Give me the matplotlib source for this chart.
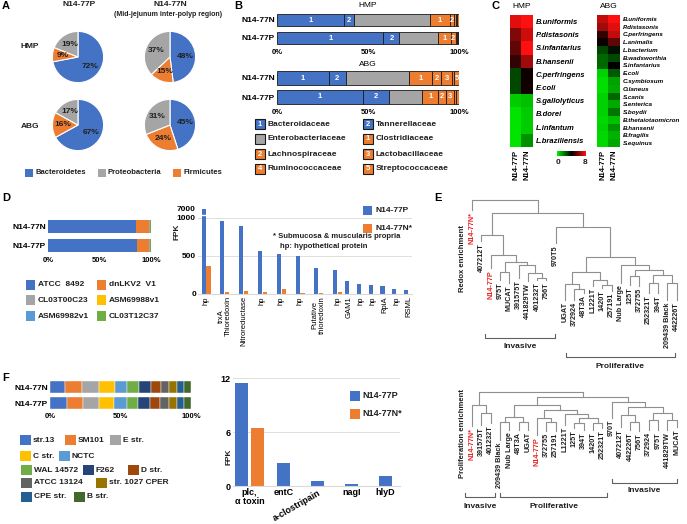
import numpy as np
import matplotlib
matplotlib.use("Agg")
import matplotlib.pyplot as plt
from matplotlib.patches import Rectangle
from matplotlib.colors import LinearSegmentedColormap

plt.rcParams["font.family"] = ["Liberation Sans", "DejaVu Sans"]
plt.rcParams["font.weight"] = "bold"
plt.rcParams["font.size"] = 5.5

BLUE = "#4472C4"
ORANGE = "#ED7D31"
GRAY = "#A5A5A5"
YELLOW = "#FFC000"
LBLUE = "#5B9BD5"
GREEN = "#70AD47"
TXT = "#1f1f1f"
RED = "#e8221e"

# ---- A: phylum pies
phyla = ["Bacteroidetes", "Firmicutes", "Proteobacteria"]
phyla_colors = [BLUE, ORANGE, GRAY]
pie_hmp_p = [72, 9, 19]
pie_hmp_n = [48, 15, 37]
pie_abg_p = [67, 16, 17]
pie_abg_n = [45, 24, 31]

# ---- B: family composition (%)
families = ["Bacteroidaceae", "Tannerellaceae", "Enterobacteriaceae", "Clostridiaceae",
            "Lachnospiraceae", "Lactobacillaceae", "Ruminococcaceae", "Streptococcaceae"]
fam_tags = ["1", "2", "", "1", "2", "3", "4", "5"]
fam_colors = [BLUE, BLUE, GRAY, ORANGE, ORANGE, ORANGE, ORANGE, ORANGE]
fam_hmp_n = [36.6, 5.9, 41.3, 11.3, 2.4, 0.8, 0.7, 1.0]
fam_hmp_p = [58.5, 8.8, 21.4, 6.9, 2.6, 0.6, 0.5, 0.7]
fam_abg_n = [28.3, 9.7, 34.6, 12.8, 4.6, 6.4, 1.1, 2.5]
fam_abg_p = [47.2, 14.1, 18.6, 8.8, 4.2, 4.4, 0.9, 1.8]

# ---- C: species heatmaps (log abundance, 0-8)
hmp_species = ["B.uniformis", "P.distasonis", "S.infantarius", "B.hansenii", "C.perfringens",
               "E.coli", "S.gallolyticus", "B.dorei", "L.infantum", "L.braziliensis"]
hmp_p = [7.5, 6.0, 5.5, 4.8, 2.8, 2.8, 0.6, 0.2, 0.2, 0.2]
hmp_n = [8.0, 7.2, 8.0, 6.5, 4.2, 4.3, 0.8, 0.6, 0.6, 1.6]
abg_species = ["B.uniformis", "P.distasonis", "C.perfringens", "L.animalis", "L.bacterium",
               "B.wadsworthia", "S.infantarius", "E.coli", "C.symbiosum", "O.laneus", "S.canis",
               "S.enterica", "S.boydii", "B.thetaiotaomicron", "B.hansenii", "B.fragilis", "S.equinus"]
abg_p = [7.0, 6.5, 4.8, 4.2, 2.8, 2.3, 2.3, 0.5, 0.3, 0.3, 0.5, 0.5, 0.5, 0.4, 0.5, 0.4, 0.4]
abg_n = [8.0, 7.5, 7.0, 5.5, 3.7, 2.8, 4.0, 2.5, 1.3, 1.2, 2.3, 1.2, 2.0, 0.8, 1.5, 1.0, 1.2]

# ---- D: B. distasonis strains and genes
d_strains = ["ATCC  8492", "dnLKV2  V1", "CL03T00C23", "ASM69988v1", "ASM69982v1", "CL03T12C37"]
d_colors = [BLUE, ORANGE, GRAY, YELLOW, LBLUE, GREEN]
d_n = [85.5, 12.8, 0.5, 0.3, 0.3, 0.6]
d_p = [86.0, 12.2, 0.6, 0.3, 0.3, 0.6]
genes = ["hp", "trxA\nThioredoxin", "Nitroreductase", "hp", "hp", "hp", "Putative\nthioredoxin",
         "hp", "GAM1", "hp", "hp", "RpiA", "hp", "RSML"]
fpk_p = [6900, 965, 900, 560, 525, 495, 345, 320, 170, 135, 120, 100, 70, 50]
fpk_n = [370, 30, 40, 25, 60, 8, 8, 20, 0, 0, 0, 0, 0, 0]

# ---- E: dendrograms (leaf order, leaf end heights, merges as (height, left, right))
redox_leaves = ["N14-77N*", "407212T", "N14-77P", "975T", "MUCAT", "391575T", "441829TW",
                "401232T", "756T", "970T5", "UGAT", "372924", "48T3A", "L1221T", "1420T",
                "257191", "Nub Large", "125T", "372755", "252321T", "394T", "209439 Black", "442226T"]
redox_leaf_h = [100, 69, 42, 30, 27, 32, 29, 30, 30, 67, 10, 10, 17, 24, 22, 19, 27, 25, 24,
                17, 17, 10, 10]
redox_tree = (110, "N14-77N*",
              (97, (75, "407212T",
                    (55, "N14-77P",
                     (48, (38, "975T", "MUCAT"),
                      (45, "391575T", (37, "441829TW", (32, "401232T", "756T")))))),
               (83, "970T5",
                (53, (38, (26, "UGAT", (21, "372924", "48T3A")),
                      (30, "L1221T", (25, "1420T", "257191"))),
                 (45, "Nub Large",
                  (40, (34, "125T", "372755"),
                   (35, (27, "252321T", "394T"), (27, "209439 Black", "442226T"))))))))

prolif_leaves = ["N14-77N*", "391575T", "401232T", "209439 Black", "Nub Large", "48T3A", "UGAT",
                 "N14-77P", "372755", "257191", "L1221T", "125T", "394T", "1420T", "252321T",
                 "970T", "407212T", "442226T", "756T", "372924", "975T", "441829TW", "MUCAT"]
prolif_leaf_h = [14, 15, 17, 0, 10, 10, 10, 5, 9, 9, 15, 12, 10, 10, 12, 22, 13, 10, 9, 10,
                 10, 10, 13]
prolif_tree = (48, (35, "N14-77N*", (27, "391575T", "401232T")),
               (43, (35, (23, (18, "209439 Black", "Nub Large"), (18, "48T3A", "UGAT")),
                     (30, (22, "N14-77P", (18, "372755", "257191")),
                      (26, "L1221T", (22, (17, "125T", "394T"), (17, "1420T", "252321T"))))),
                (38, "970T",
                 (33, (25, "407212T", (18, "442226T", "756T")),
                  (27, (20, "372924", "975T"), (20, "441829TW", "MUCAT"))))))
red_leaves = ["N14-77N*", "N14-77P"]

# ---- F: C. perfringens strains and toxins
f_strains = ["str.13", "SM101", "E str.", "C str.", "NCTC", "WAL 14572", "F262", "D str.",
             "ATCC 13124", "str. 1027 CPER", "CPE str.", "B str."]
f_colors = ["#4472C4", "#ED7D31", "#A5A5A5", "#FFC000", "#5B9BD5", "#70AD47", "#264478",
            "#9E480E", "#636363", "#997300", "#255E91", "#43682B"]
f_n = [10.7, 11.8, 12.6, 11.1, 8.3, 8.3, 8.8, 7.1, 5.9, 5.5, 5.2, 4.7]
f_p = [12.3, 11.4, 10.7, 11.1, 9.0, 7.8, 8.8, 7.1, 6.4, 5.5, 5.2, 4.7]
toxins = ["plc,\nα toxin", "entC", "a-clostripain", "nagI", "hlyD"]
tox_p = [11.5, 2.6, 0.55, 0.25, 1.1]
tox_n = [6.5, 0, 0, 0, 0]

W, H = 687, 524
fig = plt.figure(figsize=(W / 100, H / 100), dpi=100)


def box(x0, y0, x1, y1):
    ax = fig.add_axes([x0 / W, 1 - y1 / H, (x1 - x0) / W, (y1 - y0) / H])
    ax.patch.set_visible(False)
    return ax


ov = box(0, 0, W, H)
ov.set_xlim(0, W)
ov.set_ylim(H, 0)
ov.axis("off")
ov.set_zorder(10)


def note(x, y, s, **kw):
    kw.setdefault("ha", "center")
    kw.setdefault("va", "center")
    kw.setdefault("color", TXT)
    ov.text(x, y, s, **kw)


def swatch(x, y, color, w=9, h=9, **kw):
    ov.add_patch(Rectangle((x, y - h / 2), w, h, facecolor=color, **kw))


def clean(ax):
    for s in ax.spines.values():
        s.set_visible(False)
    ax.tick_params(length=0)


def stacked(ax, rows, colors, tags=None, height=0.72, edge="none", lw=0):
    tags = tags or [""] * len(colors)
    for y, vals in rows:
        left = 0
        for v, c, t in zip(vals, colors, tags):
            ax.barh(y, v, left=left, height=height, color=c, edgecolor=edge, linewidth=lw)
            if t and v >= 2:
                ax.text(left + v / 2, y, t, color="white", ha="center", va="center", fontsize=5.5)
            left += v
    ax.set_xlim(0, 100)
    ax.set_ylim(-0.5, 1.5)
    ax.set_xticks([0, 50, 100])
    ax.set_xticklabels(["0%", "50%", "100%"], fontsize=5.5)
    ax.set_yticks([1, 0])
    ax.set_yticklabels(["N14-77N", "N14-77P"], fontsize=6)
    clean(ax)
    ax.tick_params(pad=1.5)


for s, x, y in [("A", 2, 6), ("B", 234, 6), ("C", 492, 6), ("D", 2, 198), ("E", 434, 198), ("F", 2, 378)]:
    note(x, y, s, fontsize=8, ha="left", color="black")

# ---------- A
pie_cx = [78, 170]
pie_cy = [57, 125]
R = 32
for (r, c), vals in zip([(0, 0), (0, 1), (1, 0), (1, 1)], [pie_hmp_p, pie_hmp_n, pie_abg_p, pie_abg_n]):
    ax = box(pie_cx[c] - R, pie_cy[r] - R, pie_cx[c] + R, pie_cy[r] + R)
    ax.pie(vals, colors=phyla_colors, startangle=90, counterclock=False,
           autopct=lambda p: f"{p:.0f}%", pctdistance=0.6,
           wedgeprops=dict(edgecolor="white", linewidth=0.8),
           textprops=dict(fontsize=6, color=TXT, fontweight="bold"))
note(79, 5, "N14-77P", fontsize=6)
note(170, 5, "N14-77N", fontsize=6)
note(168, 14, "(Mid-jejunum inter-polyp region)", fontsize=5)
note(30, 47, "HMP", fontsize=6)
note(30, 127, "ABG", fontsize=6)
for i, x in zip([0, 2, 1], [25, 98, 173]):
    swatch(x, 173, phyla_colors[i], w=8, h=8)
    note(x + 10, 173, phyla[i], ha="left", fontsize=5.5)

# ---------- B
ax = box(277, 11, 459, 47)
stacked(ax, [(1, fam_hmp_n), (0, fam_hmp_p)], fam_colors, fam_tags, edge="#1a1a1a", lw=0.6)
ax.set_title("HMP", fontsize=6, pad=3)
ax = box(277, 68.5, 459, 106.5)
stacked(ax, [(1, fam_abg_n), (0, fam_abg_p)], fam_colors, fam_tags, edge="#1a1a1a", lw=0.6)
ax.set_title("ABG", fontsize=6, pad=1.5)
for i, fam in enumerate(families):
    x = [255, 363][i % 2]
    y = [124, 139, 154, 169][i // 2]
    swatch(x, y, fam_colors[i], w=10, h=10, edgecolor="#1a1a1a", linewidth=0.8)
    if fam_tags[i]:
        note(x + 5, y, fam_tags[i], color="white", fontsize=5.5)
    note(x + 13, y, fam, ha="left", fontsize=6)

# ---------- C
cmap = LinearSegmentedColormap.from_list("gkr", ["#00f000", "#000000", "#ff1010"])
for (x0, x1), title, sp, p, n, fs in [((510, 533), "HMP", hmp_species, hmp_p, hmp_n, 5.5),
                                       ((597, 620), "ABG", abg_species, abg_p, abg_n, 4.5)]:
    ax = box(x0, 15, x1, 147)
    ax.imshow(np.column_stack([p, n]), cmap=cmap, vmin=0, vmax=8, aspect="auto",
              interpolation="nearest")
    ax.set_yticks(range(len(sp)))
    ax.set_yticklabels(sp, style="italic", fontsize=fs)
    ax.yaxis.tick_right()
    ax.set_xticks([0, 1])
    ax.set_xticklabels(["N14-77P", "N14-77N"], rotation=90, fontsize=5.5)
    clean(ax)
    ax.tick_params(pad=2)
    ax.set_title(title, fontsize=6, pad=5)
cax = box(557, 151, 586, 156)
cax.imshow(np.linspace(0, 8, 100)[None, :], cmap=cmap, aspect="auto")
cax.axis("off")
note(558, 162, "0", fontsize=6)
note(585, 162, "8", fontsize=6)

# ---------- D left
ax = box(48, 217, 151, 255)
stacked(ax, [(1, d_n), (0, d_p)], d_colors, height=0.7)
for i, lab in enumerate(d_strains):
    x = [26, 97][i % 2]
    y = [285, 300, 316][i // 2]
    swatch(x, y, d_colors[i], w=9, h=10)
    note(x + 12, y, lab, ha="left", fontsize=6)

# ---------- D right (broken axis above 1000)
def fwd(v):
    v = np.asarray(v, dtype=float)
    return np.where(v <= 1000, v, 1000 + (v - 1000) * 0.02)


def inv(d):
    d = np.asarray(d, dtype=float)
    return np.where(d <= 1000, d, 1000 + (d - 1000) / 0.02)


gene_x = np.r_[np.arange(8), 7 + 0.63 * np.arange(1, 7)]
ax = box(198, 206.6, 412, 294)
ax.set_yscale("function", functions=(fwd, inv))
for g in (500, 1000):
    ax.axhline(g, color="#d9d9d9", lw=0.6, zorder=0)
ax.bar(gene_x - 0.13, fpk_p, 0.22, color=BLUE, zorder=2)
ax.bar(gene_x + 0.13, fpk_n, 0.22, color=ORANGE, zorder=2)
ax.plot([gene_x[0] - 0.26, gene_x[0]], [3000, 3000], color="white", lw=1.0, zorder=3)
ax.set_ylim(0, 8500)
ax.set_xlim(-0.43, 10.96)
ax.set_yticks([0, 500, 1000, 7000])
ax.set_yticklabels(["0", "500", "1000", "7000"], fontsize=6)
ax.set_xticks(gene_x)
ax.set_xticklabels(genes, rotation=90, fontsize=5.5, fontweight="normal", linespacing=1.1)
for s in ax.spines.values():
    s.set_visible(False)
ax.spines["bottom"].set_visible(True)
ax.spines["bottom"].set_color("#d9d9d9")
ax.tick_params(length=0, pad=1.5)
note(177, 232, "FPK", rotation=90, fontsize=6)
swatch(363, 210, BLUE)
note(375, 210, "N14-77P", ha="left", fontsize=6)
swatch(363, 228, ORANGE)
note(375, 228, "N14-77N*", ha="left", fontsize=6)
note(273, 237, "* Submucosa & muscularis propria", ha="left", fontsize=5.5)
note(280, 247, "hp: hypothetical protein", ha="left", fontsize=5.5)

# ---------- E
def draw_tree(ax, node, pos, leaf_end):
    if isinstance(node, str):
        return pos[node], leaf_end[node]
    h, left, right = node
    xl, hl = draw_tree(ax, left, pos, leaf_end)
    xr, hr = draw_tree(ax, right, pos, leaf_end)
    ax.plot([xl, xl, xr, xr], [hl, h, h, hr], color="#8f8f8f", lw=0.8)
    return (xl + xr) / 2, h


for (y0, y1), ylim, leaves, leaf_h, tree in [((190, 370), (-60, 120), redox_leaves, redox_leaf_h, redox_tree),
                                             ((385, 520), (-80, 55), prolif_leaves, prolif_leaf_h, prolif_tree)]:
    ax = box(467.35, y0, 681.25, y1)
    pos = {lab: i for i, lab in enumerate(leaves)}
    ends = dict(zip(leaves, leaf_h))
    draw_tree(ax, tree, pos, ends)
    for i, lab in enumerate(leaves):
        ax.text(i, leaf_h[i] - 2, lab, rotation=90, ha="center", va="top", fontsize=5.2,
                color=RED if lab in red_leaves else TXT)
    ax.set_xlim(-0.5, len(leaves) - 0.5)
    ax.set_ylim(*ylim)
    ax.axis("off")


def bracket(x0, x1, y, label, ly):
    ov.plot([x0, x0, x1, x1], [y - 4, y, y, y - 4], color="#606060", lw=0.8)
    note((x0 + x1) / 2, ly, label, fontsize=6)


bracket(485, 555, 338, "Invasive", 347)
bracket(566, 675, 357, "Proliferative", 366)
bracket(465, 495, 497, "Invasive", 506)
bracket(500, 607, 497, "Proliferative", 507)
bracket(612, 677, 483, "Invasive", 491)
note(462, 258, "Redox enrichment", rotation=90, fontsize=5.5)
note(462, 434, "Proliferation enrichment", rotation=90, fontsize=5.5)

# ---------- F left
ax = box(50, 379, 191, 411)
stacked(ax, [(1, f_n), (0, f_p)], f_colors, height=0.8, edge="white", lw=0.3)
f_leg = [(20, 440), (65, 440), (110, 440), (20, 456), (59, 456), (21, 470), (83, 470),
         (128, 470), (21, 483), (96, 483), (21, 497), (74, 497)]
for lab, c, (x, y) in zip(f_strains, f_colors, f_leg):
    swatch(x, y, c, w=11, h=10)
    note(x + 13, y, lab, ha="left", fontsize=6)

# ---------- F right
tox_x = np.arange(len(toxins))
ax = box(233, 378, 400, 486)
for g in (6, 12):
    ax.axhline(g, color="#d9d9d9", lw=0.6, zorder=0)
ax.bar(tox_x + np.where(np.array(tox_n) > 0, -0.23, 0), tox_p, 0.38, color=BLUE, zorder=2)
ax.bar(tox_x + 0.23, tox_n, 0.38, color=ORANGE, zorder=2)
ax.set_ylim(0, 12)
ax.set_xlim(-0.485, 4.43)
ax.set_yticks([0, 6, 12])
ax.set_yticklabels(["0", "6", "12"], fontsize=6.5)
ax.set_xticks(tox_x)
labs = ax.set_xticklabels(toxins, fontsize=6.5, linespacing=1.0)
labs[2].set_rotation(30)
labs[2].set_ha("right")
labs[2].set_rotation_mode("anchor")
labs[2].set_x(2.15)
for s in ax.spines.values():
    s.set_visible(False)
ax.spines["bottom"].set_visible(True)
ax.spines["bottom"].set_color("#d9d9d9")
ax.tick_params(length=0, pad=1.5)
note(229, 457, "FPK", rotation=90, fontsize=6)
swatch(350, 396, BLUE, w=10, h=10)
note(362, 396, "N14-77P", ha="left", fontsize=6.5)
swatch(350, 414, ORANGE, w=10, h=10)
note(362, 414, "N14-77N*", ha="left", fontsize=6.5)

fig.savefig("out.png", dpi=100)
